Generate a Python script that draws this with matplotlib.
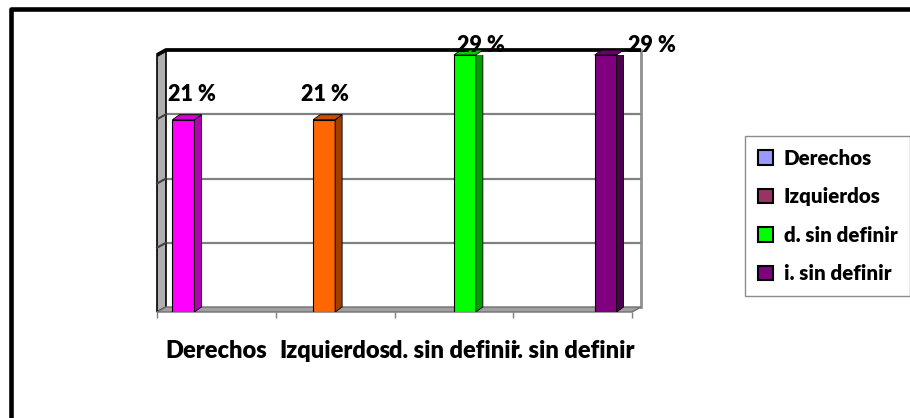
import matplotlib.pyplot as plt
from matplotlib.patches import Polygon, Patch
from matplotlib.lines import Line2D
import numpy as np

# data
categories = ['Derechos', 'Izquierdos', 'd. sin definir', 'i. sin definir']
values = [21.4, 21.4, 28.6, 28.6]

bar_colors = ['#FF00FF', '#FF6600', '#00FF00', '#800080']
side_colors = ['#B000B0', '#A04000', '#00A000', '#4A004A']
top_colors = ['#D400D4', '#C85000', '#00CC00', '#660066']
legend_colors = ['#9999FF', '#993366', '#00FF00', '#800080']

plt.rcParams['font.family'] = ['Lato', 'DejaVu Sans']
plt.rcParams['font.weight'] = 'heavy'
wt = 'heavy'

W, H = 910, 418
fig = plt.figure(figsize=(W / 100, H / 100), dpi=100)

# front plane of the 3d box (pixels from top-left)
x0, x1, y0, y1 = 157, 632, 312, 55
ax = fig.add_axes([x0 / W, 1 - y0 / H, (x1 - x0) / W, (y0 - y1) / H])
ymax = max(values)
ax.set_xlim(-0.5, 3.5)
ax.set_ylim(0, ymax)
for s in ax.spines.values():
    s.set_visible(False)
ax.set_yticks([])

ppx = (x1 - x0) / 4
ppy = (y0 - y1) / ymax
wdx, wdy = 9 / ppx, 5 / ppy   # wall depth
bdx, bdy = 7 / ppx, 5 / ppy   # bar depth

# back wall gridlines + marks on the left wall
for g in np.arange(1, 4) * ymax / 4:
    ax.plot([-0.5 + wdx, 3.5 + wdx], [g + wdy] * 2, color='#808080', lw=1.6,
            zorder=1, clip_on=False)
    ax.plot([-0.5, -0.5 + wdx], [g, g + wdy], color='#404040', lw=1.5,
            zorder=2, clip_on=False)

# left wall and floor
ax.add_patch(Polygon([(-0.5, 0), (-0.5, ymax), (-0.5 + wdx, ymax + wdy), (-0.5 + wdx, wdy)],
                     closed=True, fc='#B0B0B0', ec='black', lw=1.2, zorder=1.5, clip_on=False))
ax.add_patch(Polygon([(-0.5, 0), (3.5, 0), (3.5 + wdx, wdy), (-0.5 + wdx, wdy)],
                     closed=True, fc='#A0A0A0', ec='#707070', lw=1, zorder=1.5, clip_on=False))

# right edge and top edge of the back wall
ax.plot([3.5 + wdx] * 2, [wdy, ymax + wdy], color='#909090', lw=2, zorder=1, clip_on=False)
ax.plot([-0.5, -0.5 + wdx, 3.5 + wdx], [ymax, ymax + wdy, ymax + wdy], color='black',
        lw=2.7, zorder=2, clip_on=False, solid_capstyle='butt')

# bars (each series only has a value in its own category)
bw = 0.185
offsets = (np.arange(4) - 1.5) * bw
label_dx = [9, 1, 16, 46]
label_dy = [25, 25, 9, 9]
for i, v in enumerate(values):
    xc = i + offsets[i]
    ax.bar(xc, v, width=bw, color=bar_colors[i], edgecolor='black', lw=0.8, zorder=4)
    xr = xc + bw / 2
    xl = xc - bw / 2
    ax.add_patch(Polygon([(xr, 0), (xr, v), (xr + bdx, v + bdy), (xr + bdx, bdy)],
                         closed=True, fc=side_colors[i], ec='black', lw=0.6, zorder=4))
    ax.add_patch(Polygon([(xl, v), (xr, v), (xr + bdx, v + bdy), (xl + bdx, v + bdy)],
                         closed=True, fc=top_colors[i], ec='black', lw=0.6, zorder=4,
                         clip_on=False))
    ax.annotate(f'{v:.0f} %', (xc, v), xytext=(label_dx[i], label_dy[i]),
                textcoords='offset pixels', ha='center', va='center',
                fontsize=15.5, fontweight=wt, zorder=6, annotation_clip=False)

# category labels and floor ticks
ax.set_xticks(range(len(categories)))
ax.set_xticklabels(categories, fontsize=17, fontweight=wt)
ax.tick_params(axis='x', which='major', length=0, pad=20)
ax.set_xticks(np.arange(-0.5, 4, 1), minor=True)
ax.tick_params(axis='x', which='minor', length=4, width=1, color='#808080')

# legend
handles = [Patch(facecolor=c, edgecolor='black', lw=1.5) for c in legend_colors]
leg = fig.legend(handles, categories, loc='upper left', bbox_to_anchor=(745 / W, 1 - 136 / H),
                 prop={'size': 14.8, 'weight': wt}, frameon=True, fancybox=False,
                 edgecolor='#707070', handlelength=0.72, handleheight=0.72,
                 handletextpad=0.55, labelspacing=0.95, borderpad=0.62, borderaxespad=0)
leg.get_frame().set_linewidth(1)

# outer chart border (only left and top are visible)
fig.add_artist(Line2D([10.5 / W, 10.5 / W, 1], [0, 1 - 9 / H, 1 - 9 / H],
                      transform=fig.transFigure, color='black', lw=3.3))

fig.savefig('out.png', dpi=100)
